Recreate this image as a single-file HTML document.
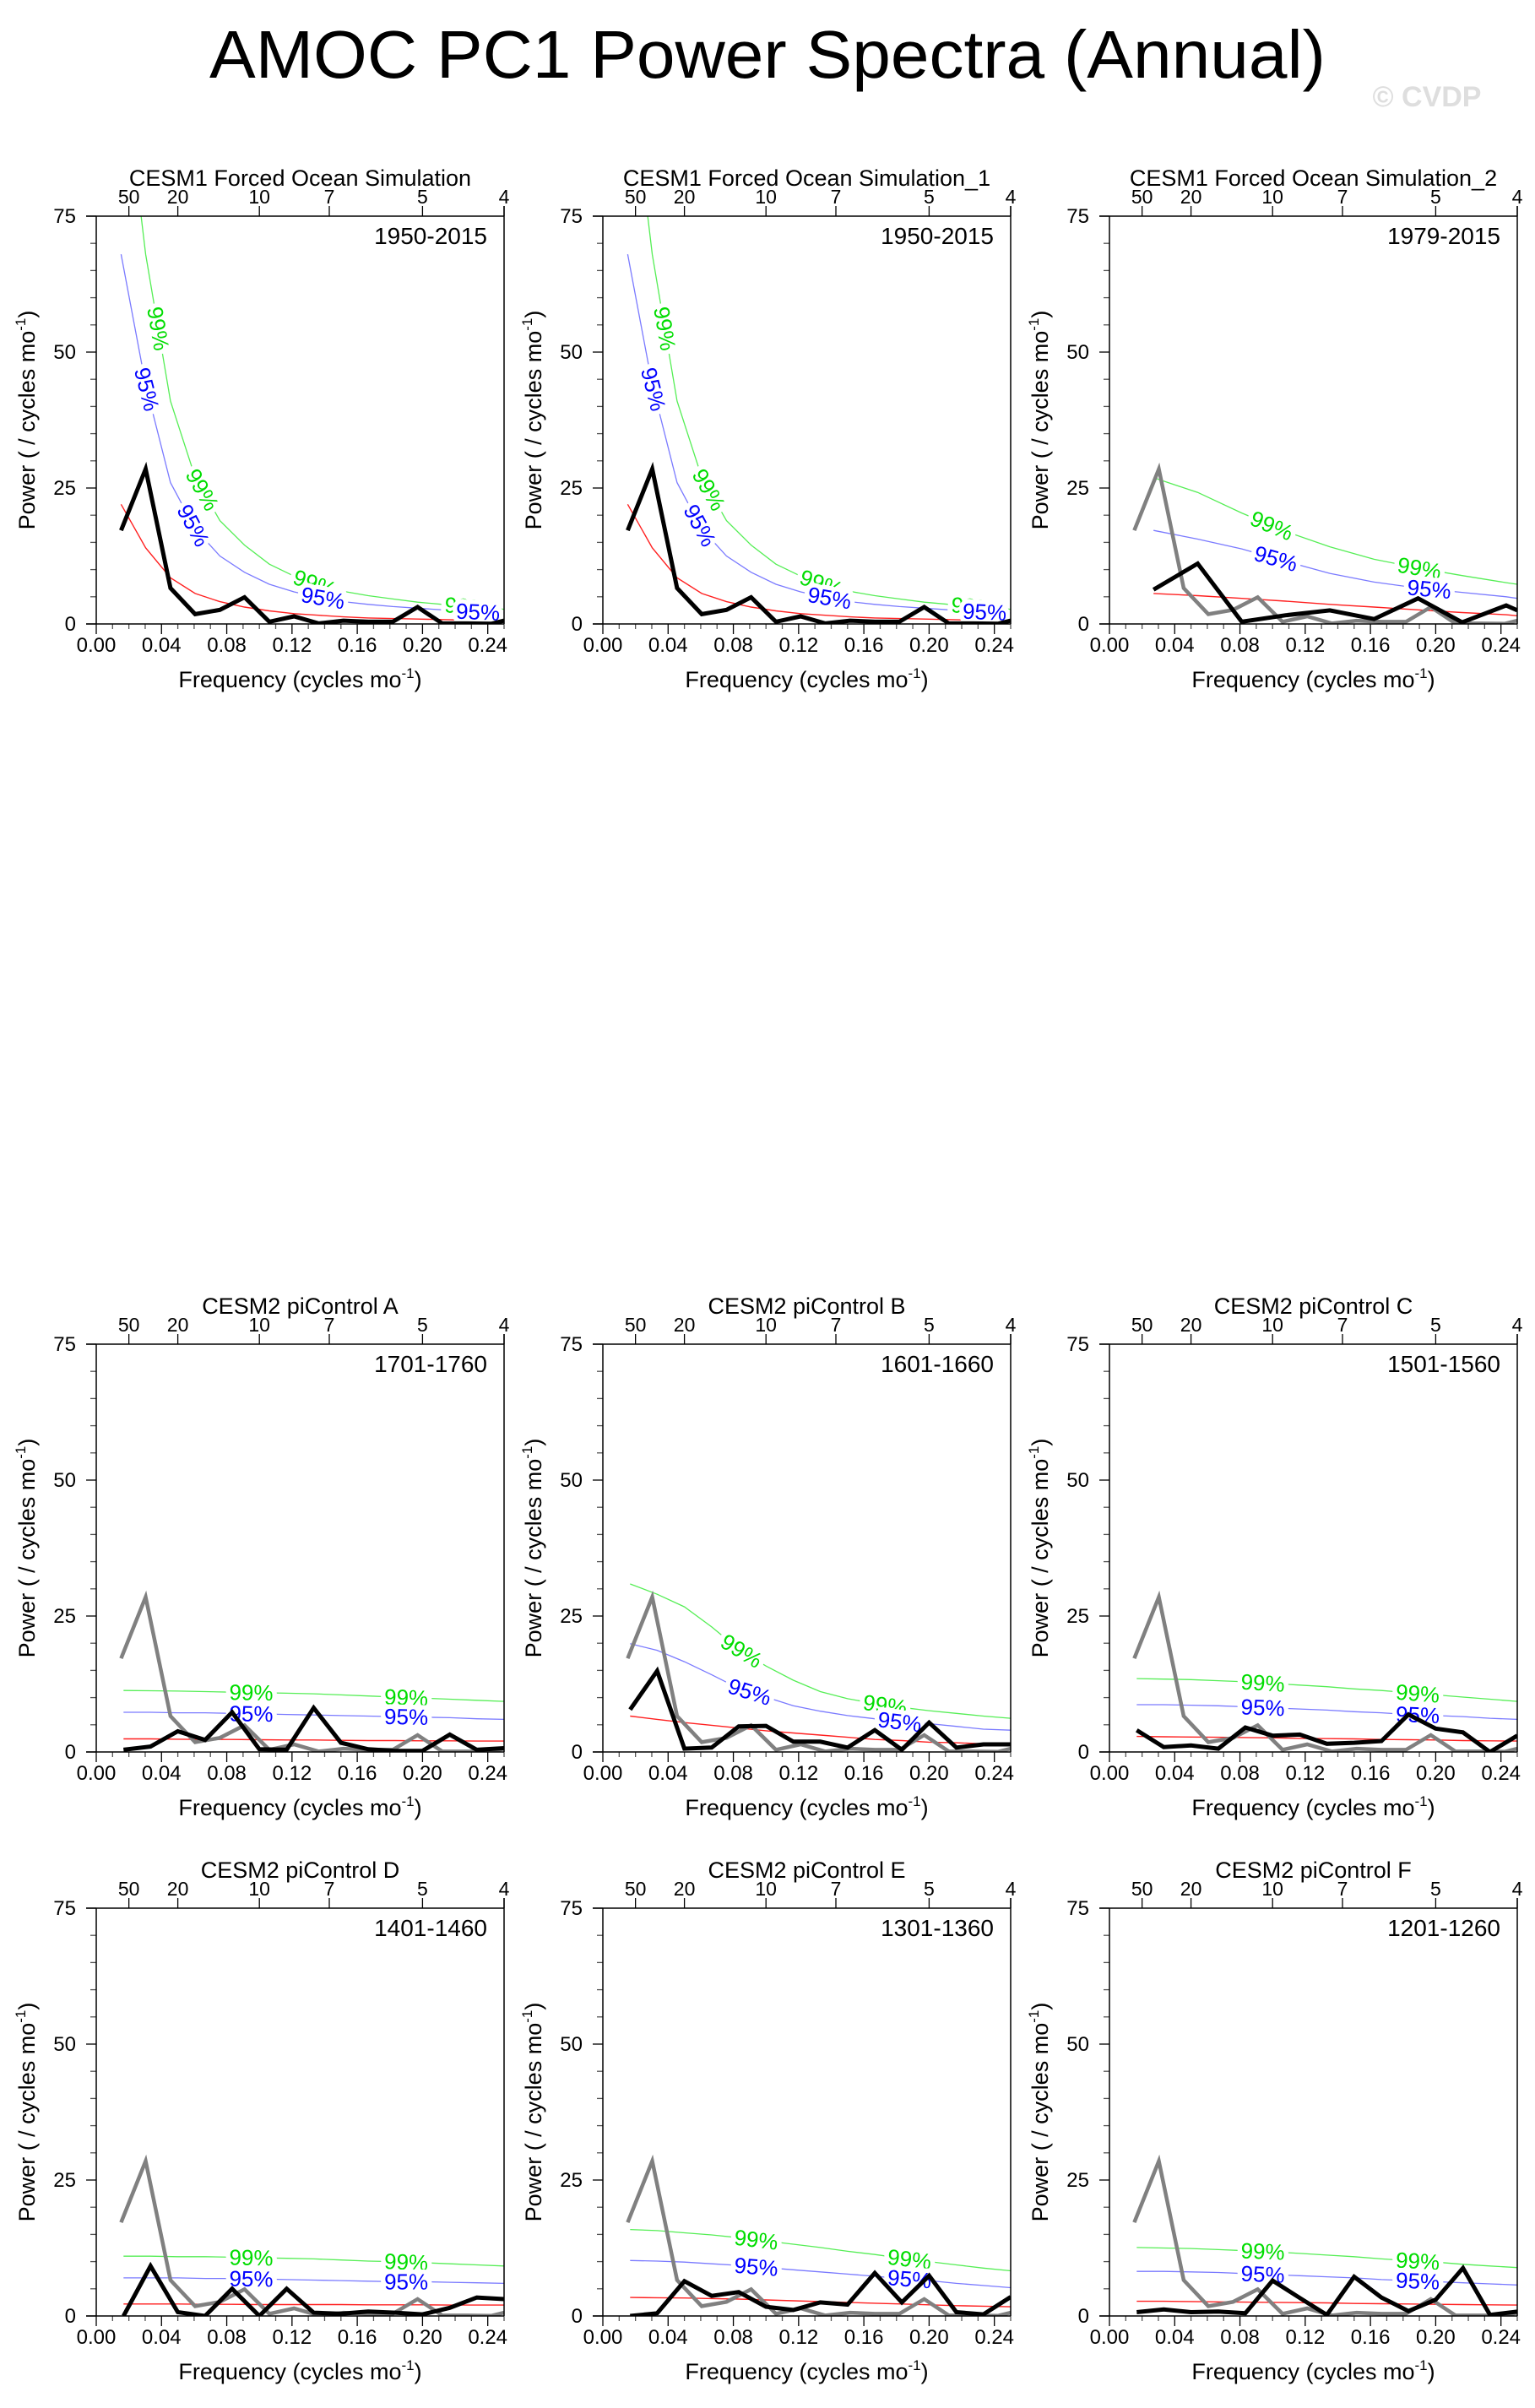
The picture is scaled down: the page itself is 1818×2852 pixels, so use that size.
<!DOCTYPE html>
<html><head><meta charset="utf-8">
<style>
html,body{margin:0;padding:0;background:#fff;}
svg{display:block;font-family:"Liberation Sans",Arial,sans-serif;}
</style></head>
<body>
<svg id="fig" width="1818" height="2852" viewBox="0 0 1818 2852" xmlns="http://www.w3.org/2000/svg">
<rect x="0" y="0" width="1818" height="2852" fill="#fff"/>
<text x="909" y="92" text-anchor="middle" font-size="80" textLength="1322" lengthAdjust="spacingAndGlyphs">AMOC PC1 Power Spectra (Annual)</text>
<text x="1690" y="126" text-anchor="middle" font-size="34" font-weight="bold" fill="#dedede">© CVDP</text>
</svg>
<script>
// ---- data ----
const freq66 = [0.0152,0.0303,0.0455,0.0606,0.0758,0.0909,0.1061,0.1212,0.1364,0.1515,0.1667,0.1818,0.1970,0.2121,0.2273,0.2424,0.25];
const freq37 = [0.027,0.0541,0.0811,0.1081,0.1351,0.1622,0.1892,0.2162,0.2432,0.25];
const freq60 = [0.0167,0.0333,0.05,0.0667,0.0833,0.1,0.1167,0.1333,0.15,0.1667,0.1833,0.2,0.2167,0.2333,0.25];

const obsPower = [17.2,28.5,6.6,1.8,2.6,4.9,0.4,1.4,0.1,0.6,0.4,0.4,3.1,0.1,0.1,0.05,0.6];
const obsRed   = [22,14,8.5,5.6,4.1,3.1,2.4,1.9,1.6,1.3,1.1,1.0,0.9,0.8,0.7,0.65,0.6];
const obs95    = [68,44,26,17.5,12.5,9.5,7.3,5.9,4.9,4.1,3.6,3.2,2.9,2.6,2.3,2.1,2.0];
const obs99    = [106,68,41,27,19,14.5,11,8.8,7.2,6.0,5.2,4.6,4.0,3.6,3.2,2.9,2.7];

const s2Power = [6.3,11.1,0.4,1.6,2.5,0.9,4.7,0.3,3.4,2.5];
const s2Red   = [5.6,5.2,4.7,4.2,3.6,3.1,2.6,2.1,1.7,1.5];
const s295    = [17.2,15.6,13.8,11.5,9.3,7.7,6.6,5.8,5.0,4.7];
const s299    = [26.9,24.2,20.4,17.0,14.2,11.9,10.3,8.9,7.6,7.3];

const aPower = [0.4,1.0,3.8,2.2,7.3,0.5,0.4,8.1,1.7,0.5,0.2,0.2,3.2,0.4,0.7];
const aRed   = [2.4,2.4,2.35,2.3,2.3,2.25,2.2,2.2,2.15,2.1,2.1,2.05,2.05,2.0,2.0];
const a95    = [7.3,7.3,7.2,7.2,7.1,7.0,6.9,6.8,6.7,6.6,6.5,6.4,6.3,6.1,6.0];
const a99    = [11.3,11.25,11.2,11.1,11.0,10.9,10.8,10.7,10.5,10.3,10.1,9.9,9.7,9.5,9.3];

const bPower = [7.8,14.9,0.6,0.8,4.7,4.8,1.9,1.9,0.8,4.0,0.4,5.4,0.8,1.4,1.4];
const bRed   = [6.6,6.0,5.4,4.9,4.4,3.9,3.5,3.1,2.7,2.3,2.1,1.8,1.7,1.5,1.4];
const b95    = [19.9,18.7,16.6,14.2,11.7,10.1,8.5,7.5,6.7,6.1,5.5,5.2,4.7,4.2,4.0];
const b99    = [30.9,29.0,26.7,23.0,18.9,15.8,13.2,11.1,9.8,8.9,8.2,7.6,7.1,6.6,6.2];

const cPower = [4.0,0.9,1.2,0.6,4.5,3.0,3.2,1.5,1.7,2.0,6.9,4.3,3.6,0.0,3.0];
const cRed   = [2.85,2.8,2.75,2.7,2.65,2.6,2.5,2.45,2.4,2.3,2.25,2.2,2.1,2.05,2.0];
const c95    = [8.7,8.7,8.6,8.5,8.3,8.1,7.9,7.7,7.4,7.2,6.9,6.7,6.5,6.2,6.0];
const c99    = [13.5,13.4,13.3,13.1,12.9,12.6,12.3,12.0,11.6,11.3,10.9,10.5,10.1,9.7,9.3];

const dPower = [0.0,9.2,0.7,0.0,5.0,0.0,5.0,0.6,0.4,0.8,0.6,0.3,1.5,3.4,3.1];
const dRed   = [2.2,2.2,2.2,2.15,2.15,2.1,2.1,2.1,2.1,2.05,2.05,2.05,2.0,2.0,2.0];
const d95    = [7.0,7.0,7.0,6.9,6.9,6.8,6.7,6.6,6.5,6.4,6.3,6.3,6.2,6.1,6.0];
const d99    = [11.0,11.0,10.9,10.9,10.8,10.7,10.6,10.5,10.3,10.1,10.0,9.8,9.6,9.4,9.2];

const ePower = [0.0,0.5,6.4,3.7,4.4,1.7,1.1,2.5,2.1,7.9,2.5,7.4,0.7,0.3,3.5];
const eRed   = [3.4,3.35,3.3,3.2,3.1,2.95,2.8,2.65,2.5,2.35,2.2,2.05,1.9,1.8,1.7];
const e95    = [10.2,10.1,9.9,9.6,9.3,8.9,8.5,8.1,7.7,7.3,6.9,6.5,6.0,5.6,5.2];
const e99    = [15.9,15.7,15.3,14.9,14.4,13.8,13.2,12.6,11.9,11.3,10.6,10.0,9.4,8.8,8.3];

const fPower = [0.7,1.2,0.7,0.8,0.5,6.5,3.3,0.2,7.2,3.4,0.9,3.0,8.8,0.2,0.8];
const fRed   = [2.7,2.7,2.65,2.6,2.55,2.5,2.45,2.4,2.3,2.25,2.2,2.15,2.1,2.05,2.0];
const f95    = [8.2,8.2,8.1,8.0,7.8,7.6,7.4,7.2,7.0,6.7,6.5,6.3,6.1,5.9,5.7];
const f99    = [12.6,12.5,12.4,12.2,12.0,11.8,11.5,11.2,10.9,10.5,10.2,9.9,9.5,9.2,8.9];

const xTickVals = [0,0.04,0.08,0.12,0.16,0.20,0.24];
const xTickLabels = ["0.00","0.04","0.08","0.12","0.16","0.20","0.24"];
const yTickVals = [0,25,50,75];
const periodLabels = ["50","20","10","7","5","4"];
const periodVals = [50,20,10,7,5,4];

const panelTitles = ["CESM1 Forced Ocean Simulation","CESM1 Forced Ocean Simulation_1","CESM1 Forced Ocean Simulation_2","CESM2 piControl A","CESM2 piControl B","CESM2 piControl C","CESM2 piControl D","CESM2 piControl E","CESM2 piControl F"];
const panelYears = ["1950-2015","1950-2015","1979-2015","1701-1760","1601-1660","1501-1560","1401-1460","1301-1360","1201-1260"];

const panels = [
 {f:freq66,p:obsPower,r:obsRed,c95:obs95,c99:obs99,ref:false,l99:[0.038,0.065,0.134,0.227],l95:[0.031,0.0595,0.139,0.234]},
 {f:freq66,p:obsPower,r:obsRed,c95:obs95,c99:obs99,ref:false,l99:[0.038,0.065,0.134,0.227],l95:[0.031,0.0595,0.139,0.234]},
 {f:freq37,p:s2Power,r:s2Red,c95:s295,c99:s299,ref:true,l99:[0.0995,0.19],l95:[0.102,0.196]},
 {f:freq60,p:aPower,r:aRed,c95:a95,c99:a99,ref:true,l99:[0.095,0.19],l95:[0.095,0.19]},
 {f:freq60,p:bPower,r:bRed,c95:b95,c99:b99,ref:true,l99:[0.085,0.173],l95:[0.09,0.182]},
 {f:freq60,p:cPower,r:cRed,c95:c95,c99:c99,ref:true,l99:[0.094,0.189],l95:[0.094,0.189]},
 {f:freq60,p:dPower,r:dRed,c95:d95,c99:d99,ref:true,l99:[0.095,0.19],l95:[0.095,0.19]},
 {f:freq60,p:ePower,r:eRed,c95:e95,c99:e99,ref:true,l99:[0.094,0.188],l95:[0.094,0.188]},
 {f:freq60,p:fPower,r:fRed,c95:f95,c99:f99,ref:true,l99:[0.094,0.189],l95:[0.094,0.189]}
];

// ---- drawing ----
const NS = "http://www.w3.org/2000/svg";
const svg = document.getElementById("fig");
const colLeft = [114,714,1314];
const rowTop = [256,1592,2260];
const W = 483, H = 483;

function mk(tag, parent){ const e = document.createElementNS(NS, tag); parent.appendChild(e); return e; }
function line(g,x1,y1,x2,y2,stroke,sw){ const l = mk("line",g); l.setAttribute("x1",x1); l.setAttribute("y1",y1); l.setAttribute("x2",x2); l.setAttribute("y2",y2); l.setAttribute("stroke",stroke); l.setAttribute("stroke-width",sw); return l; }

panels.forEach((P, i) => {
  const L = colLeft[i%3], T = rowTop[Math.floor(i/3)], B = T+H, R = L+W;
  const xs = f => L + f/0.25*W;
  const ys = v => B - v/75*H;
  const g = mk("g", svg);
  
  

  const cp = mk("clipPath", g); cp.setAttribute("id","clip"+i);
  const cr = mk("rect", cp); cr.setAttribute("x",L); cr.setAttribute("y",T); cr.setAttribute("width",W); cr.setAttribute("height",H);

  const tt = mk("text", g);
  tt.setAttribute("x", L+W/2); tt.setAttribute("y", T-36); tt.setAttribute("text-anchor","middle"); tt.setAttribute("font-size","27");
  tt.textContent = panelTitles[i];
  
  

  const yl = mk("text", g);
  yl.setAttribute("x", R-20); yl.setAttribute("y", T+33); yl.setAttribute("text-anchor","end"); yl.setAttribute("font-size","28");
  yl.textContent = panelYears[i];
  
  

  for (let v=0; v<=75; v+=5){
    const major = v%25===0;
    line(g, L-(major?12:7), ys(v), L, ys(v), major?"#000":"#555", 1.3);
  }
  yTickVals.forEach(v => {
    const t = mk("text", g);
    t.setAttribute("x", L-24); t.setAttribute("y", ys(v)+8); t.setAttribute("text-anchor","end"); t.setAttribute("font-size","24");
    t.textContent = String(v);
    
    
  });
  for (let k=0; k<=25; k++){
    const f = k/100, major = k%4===0;
    line(g, xs(f), B, xs(f), B+(major?12:6), major?"#000":"#555", 1.3);
  }
  xTickVals.forEach((f,j) => {
    const t = mk("text", g);
    t.setAttribute("x", xs(f)); t.setAttribute("y", B+33); t.setAttribute("text-anchor","middle"); t.setAttribute("font-size","24");
    t.textContent = xTickLabels[j];
    
    
  });
  periodVals.forEach((p,j) => {
    const x = xs(1/p);
    line(g, x, T-12, x, T, "#000", 1.3);
    const t = mk("text", g);
    t.setAttribute("x", x); t.setAttribute("y", T-15); t.setAttribute("text-anchor","middle"); t.setAttribute("font-size","23");
    t.textContent = periodLabels[j];
    
    
  });
  const xl = mk("text", g);
  xl.setAttribute("x", L+W/2); xl.setAttribute("y", B+75); xl.setAttribute("text-anchor","middle"); xl.setAttribute("font-size","27");
  xl.innerHTML = 'Frequency (cycles mo<tspan font-size="17" dy="-11">-1</tspan><tspan dy="11">)</tspan>';
  
  
  const ylab = mk("text", g);
  ylab.setAttribute("transform", `translate(${L-73},${T+H/2}) rotate(-90)`);
  ylab.setAttribute("text-anchor","middle"); ylab.setAttribute("font-size","27");
  ylab.innerHTML = 'Power ( / cycles mo<tspan font-size="17" dy="-11">-1</tspan><tspan dy="11">)</tspan>';
  
  

  const dg = mk("g", g); dg.setAttribute("clip-path", `url(#clip${i})`);
  function poly(fr, vals, color, sw, name){
    const pl = mk("polyline", dg);
    pl.setAttribute("points", fr.map((f,k)=>xs(f).toFixed(1)+","+ys(vals[k]).toFixed(1)).join(" "));
    pl.setAttribute("fill","none"); pl.setAttribute("stroke",color); pl.setAttribute("stroke-width",sw); pl.setAttribute("stroke-linejoin","miter");
    
    
  }
  function label(fr, vals, fpos, color, txt){
    let k=0; while(k<fr.length-2 && fr[k+1]<fpos) k++;
    const x0=xs(fr[k]), y0=ys(vals[k]), x1=xs(fr[k+1]), y1=ys(vals[k+1]);
    const t=(xs(fpos)-x0)/(x1-x0);
    const x=x0+t*(x1-x0), y=y0+t*(y1-y0);
    const ang=Math.atan2(y1-y0,x1-x0)*180/Math.PI;
    const tx = mk("text", dg);
    tx.setAttribute("transform", `translate(${x.toFixed(1)},${y.toFixed(1)}) rotate(${ang.toFixed(1)})`);
    tx.setAttribute("text-anchor","middle"); tx.setAttribute("dy","9"); tx.setAttribute("font-size","26");
    tx.setAttribute("fill", color); tx.setAttribute("stroke","#fff"); tx.setAttribute("stroke-width","11");
    tx.setAttribute("paint-order","stroke"); tx.setAttribute("stroke-linejoin","round");
    tx.textContent = txt;
    
    
  }
  poly(P.f, P.r, "#ff2020", 1.4, "red-noise-line");
  poly(P.f, P.c95, "#7a7aff", 1.3, "confidence-95-line");
  poly(P.f, P.c99, "#55ee55", 1.3, "confidence-99-line");
  P.l99.forEach(fp => label(P.f, P.c99, fp, "#00dd00", "99%"));
  P.l95.forEach(fp => label(P.f, P.c95, fp, "#0000ff", "95%"));
  if (P.ref) poly(freq66, obsPower, "#808080", 4.5, "reference-spectrum-line");
  poly(P.f, P.p, "#000", 5, "power-spectrum-line");

  line(g, L-12, T, R, T, "#000", 1.5);
  line(g, L, T, L, B, "#000", 1.5);
  line(g, R, T-12, R, B, "#000", 1.5);
  line(g, L-12, B, R, B, "#000", 1.5);
});
</script>
</body></html>
